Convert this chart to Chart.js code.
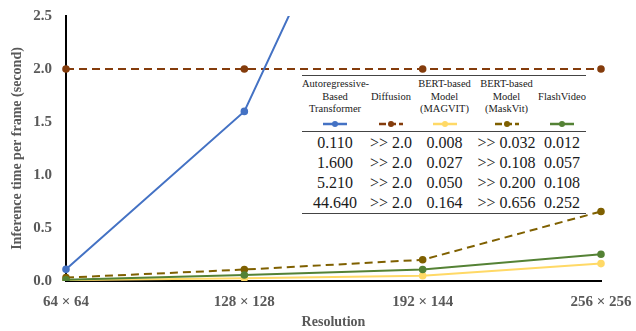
<!DOCTYPE html>
<html>
<head>
<meta charset="utf-8">
<script src="https://cdn.jsdelivr.net/npm/chart.js@4.4.1/dist/chart.umd.min.js"></script>
<style>
  html, body { margin: 0; padding: 0; background: #fff; }
  #wrap { position: relative; width: 636px; height: 331px; }
  #chart { position: absolute; left: 0; top: 0; }
  #tbl {
    position: absolute; left: 302px; top: 75px; width: 284px;
    border-collapse: collapse; font-family: "Liberation Serif", serif;
    color: #1a1a1a; background: #fff; table-layout: fixed;
    border-top: 1.5px solid #444; border-bottom: 1.5px solid #444;
  }
  #tbl th { font-weight: normal; font-size: 10.5px; line-height: 12.5px; padding: 2px 0 0 0; vertical-align: middle; text-align: center; }
  #tbl td { font-size: 16px; line-height: 20px; padding: 0; text-align: center; white-space: nowrap; }
  #tbl tr.legend td { height: 8px; line-height: 0; padding: 4px 0 3px 0; border-bottom: 1.5px solid #444; }
  #tbl tr.legend canvas { display: inline-block; }
  #tbl tr.first td { padding-top: 1px; }
</style>
</head>
<body>
<div id="wrap">
  <canvas id="chart" width="636" height="331"></canvas>
  <table id="tbl">
    <colgroup><col style="width:66px"><col style="width:46px"><col style="width:61px"><col style="width:63px"><col style="width:48px"></colgroup>
    <thead><tr id="head"></tr></thead>
    <tbody id="body"></tbody>
  </table>
</div>
<script>
// --- DATA ---
const resolutions = ['64 × 64', '128 × 128', '192 × 144', '256 × 256'];
const seriesNames = [
  ['Autoregressive-', 'Based', 'Transformer'],
  ['Diffusion'],
  ['BERT-based', 'Model', '(MAGVIT)'],
  ['BERT-based', 'Model', '(MaskVit)'],
  ['FlashVideo']
];
const autoregressive = [0.110, 1.600, 5.210, 44.640];
const diffusion = [2.0, 2.0, 2.0, 2.0];
const magvit = [0.008, 0.027, 0.050, 0.164];
const maskvit = [0.032, 0.108, 0.200, 0.656];
const flashvideo = [0.012, 0.057, 0.108, 0.252];
const tablePrefix = ['', '>> ', '', '>> ', ''];
const tableDecimals = [3, 1, 3, 3, 3];
const yTicks = [0, 0.5, 1.0, 1.5, 2.0, 2.5];

const colors = ['#4472C4', '#843C0C', '#FFD966', '#7F6000', '#548235'];
const dashed = [false, true, false, true, false];
const allSeries = [autoregressive, diffusion, magvit, maskvit, flashvideo];

// --- TABLE ---
function renderTable() {
  const head = document.getElementById('head');
  seriesNames.forEach(lines => {
    const th = document.createElement('th');
    th.innerHTML = lines.join('<br>');
    head.appendChild(th);
  });
  const body = document.getElementById('body');
  const legendRow = document.createElement('tr');
  legendRow.className = 'legend';
  colors.forEach((c, i) => {
    const td = document.createElement('td');
    const cv = document.createElement('canvas');
    cv.width = 26; cv.height = 8;
    const g = cv.getContext('2d');
    g.strokeStyle = c; g.fillStyle = c; g.lineWidth = 2.5;
    if (dashed[i]) g.setLineDash([7, 3]);
    g.beginPath(); g.moveTo(1, 4); g.lineTo(25, 4); g.stroke();
    g.beginPath(); g.arc(13, 4, 3, 0, Math.PI * 2); g.fill();
    td.appendChild(cv);
    legendRow.appendChild(td);
  });
  body.appendChild(legendRow);
  for (let r = 0; r < resolutions.length; r++) {
    const tr = document.createElement('tr');
    if (r === 0) tr.className = 'first';
    allSeries.forEach((s, i) => {
      const td = document.createElement('td');
      td.textContent = tablePrefix[i] + s[r].toFixed(tableDecimals[i]);
      tr.appendChild(td);
    });
    body.appendChild(tr);
  }
}
renderTable();

// --- CHART ---
const tickFont = { family: '"Liberation Serif", serif', size: 15, weight: 'bold' };
const titleFont = { family: '"Liberation Serif", serif', size: 14, weight: 'bold' };
const datasets = allSeries.map((s, i) => ({
  label: seriesNames[i].join(' '),
  data: s,
  borderColor: colors[i],
  backgroundColor: colors[i],
  borderWidth: 2,
  borderDash: dashed[i] ? [8, 5] : [],
  pointRadius: 2.8,
  pointHoverRadius: 2.8,
  tension: 0,
  order: [0, 1, 4, 3, 2][i]
}));

new Chart(document.getElementById('chart'), {
  type: 'line',
  data: { labels: resolutions, datasets: datasets },
  options: {
    responsive: false,
    animation: false,
    layout: { padding: { top: 16, right: 35, left: 0, bottom: 0 } },
    plugins: { legend: { display: false }, tooltip: { enabled: false } },
    scales: {
      x: {
        offset: false,
        grid: { display: false, drawTicks: false },
        border: { color: '#000', width: 2 },
        ticks: { color: '#595959', font: tickFont, padding: 12, maxRotation: 0, autoSkip: false },
        title: { display: true, text: 'Resolution', color: '#595959', font: titleFont, padding: { top: 6, bottom: 0 } },
        afterFit: s => { s.height = 50; s.paddingLeft = 0; s.paddingRight = 0; }
      },
      y: {
        min: 0, max: 2.5,
        afterBuildTicks: s => { s.ticks = yTicks.map(v => ({ value: v })); },
        grid: { display: false, drawTicks: false },
        border: { color: '#000', width: 2 },
        ticks: { color: '#595959', font: tickFont, padding: 14, callback: v => Number(v).toFixed(1) },
        title: { display: true, text: 'Inference time per frame (second)', color: '#595959', font: titleFont, padding: { top: 9, bottom: 0 } },
        afterFit: s => { s.width = 66; s.paddingTop = 0; s.paddingBottom = 0; }
      }
    }
  }
});
</script>
</body>
</html>
